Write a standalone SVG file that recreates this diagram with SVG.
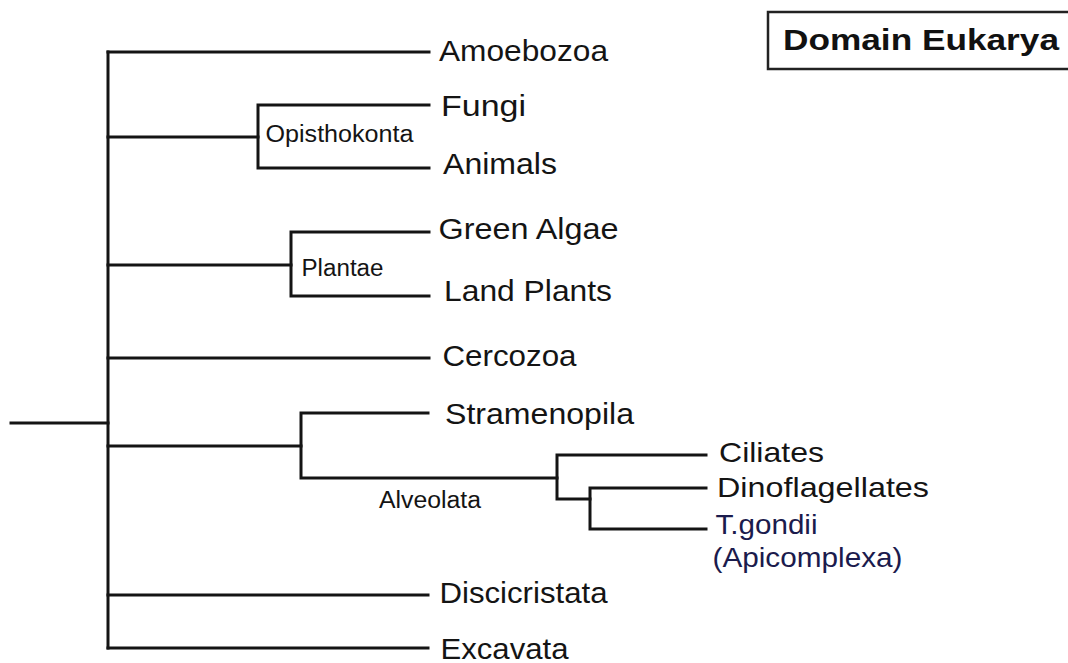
<svg xmlns="http://www.w3.org/2000/svg" width="1068" height="663" viewBox="0 0 1068 663">
<style>
  .edge { fill: none; stroke: #141414; stroke-width: 3; stroke-linecap: square; stroke-linejoin: miter; }
  .leaf { font-family: "Liberation Sans", Arial, sans-serif; font-size: 30px; fill: #141414; }
  .leafR { font-family: "Liberation Sans", Arial, sans-serif; font-size: 28px; fill: #141414; }
  .clade { font-family: "Liberation Sans", Arial, sans-serif; font-size: 23px; fill: #141414; }
  .tg { fill: #1b1b4d; }
  .title { font-family: "Liberation Sans", Arial, sans-serif; font-size: 30px; font-weight: bold; fill: #111; }
  .box { fill: #fff; stroke: #222; stroke-width: 2.5; }
</style>
<rect width="1068" height="663" fill="#fff"/>
<g id="connectors">
  <path class="edge" d="M11 423 H108"/>
  <path class="edge" d="M108 52 V648"/>
  <path class="edge" d="M108 52 H429"/>
  <path class="edge" d="M108 137 H258"/>
  <path class="edge" d="M429 105 H258 V168 H429"/>
  <path class="edge" d="M108 265 H291"/>
  <path class="edge" d="M429 232 H291 V296 H429"/>
  <path class="edge" d="M108 358 H429"/>
  <path class="edge" d="M108 446 H301"/>
  <path class="edge" d="M428 413 H301 V478 H557"/>
  <path class="edge" d="M706 455 H557 V499 H590"/>
  <path class="edge" d="M706 488 H590 V529 H706"/>
  <path class="edge" d="M108 595 H428"/>
  <path class="edge" d="M108 648 H428"/>
</g>
<g id="title">
  <rect class="box" x="768" y="12" width="310" height="57"/>
  <text class="title" x="783" y="50" textLength="276" lengthAdjust="spacingAndGlyphs">Domain Eukarya</text>
</g>
<g id="amoebozoa"><text class="leaf" x="439" y="61" textLength="169" lengthAdjust="spacingAndGlyphs">Amoebozoa</text></g>
<g id="opisthokonta"><text class="clade" x="265.5" y="141.5" textLength="148" lengthAdjust="spacingAndGlyphs">Opisthokonta</text></g>
<g id="fungi"><text class="leaf" x="441" y="115.5" textLength="85" lengthAdjust="spacingAndGlyphs">Fungi</text></g>
<g id="animals"><text class="leaf" x="443" y="174" textLength="114" lengthAdjust="spacingAndGlyphs">Animals</text></g>
<g id="plantae"><text class="clade" x="301.5" y="275.5" textLength="82" lengthAdjust="spacingAndGlyphs">Plantae</text></g>
<g id="green-algae"><text class="leaf" x="438.5" y="239" textLength="180" lengthAdjust="spacingAndGlyphs">Green Algae</text></g>
<g id="land-plants"><text class="leaf" x="444" y="301" textLength="168" lengthAdjust="spacingAndGlyphs">Land Plants</text></g>
<g id="cercozoa"><text class="leaf" x="442.5" y="366" textLength="134" lengthAdjust="spacingAndGlyphs">Cercozoa</text></g>
<g id="stramenopila"><text class="leaf" x="445" y="424" textLength="189" lengthAdjust="spacingAndGlyphs">Stramenopila</text></g>
<g id="alveolata"><text class="clade" x="379" y="508" textLength="102" lengthAdjust="spacingAndGlyphs">Alveolata</text></g>
<g id="ciliates"><text class="leafR" x="719" y="462" textLength="105" lengthAdjust="spacingAndGlyphs">Ciliates</text></g>
<g id="dinoflagellates"><text class="leafR" x="717" y="497" textLength="212" lengthAdjust="spacingAndGlyphs">Dinoflagellates</text></g>
<g id="tgondii">
  <text class="leafR tg" x="715.5" y="534" textLength="102" lengthAdjust="spacingAndGlyphs">T.gondii</text>
  <text class="leafR tg" x="712.5" y="567" textLength="190" lengthAdjust="spacingAndGlyphs">(Apicomplexa)</text>
</g>
<g id="discicristata"><text class="leaf" x="439.5" y="603" textLength="168" lengthAdjust="spacingAndGlyphs">Discicristata</text></g>
<g id="excavata"><text class="leaf" x="440.5" y="659" textLength="128" lengthAdjust="spacingAndGlyphs">Excavata</text></g>
</svg>
